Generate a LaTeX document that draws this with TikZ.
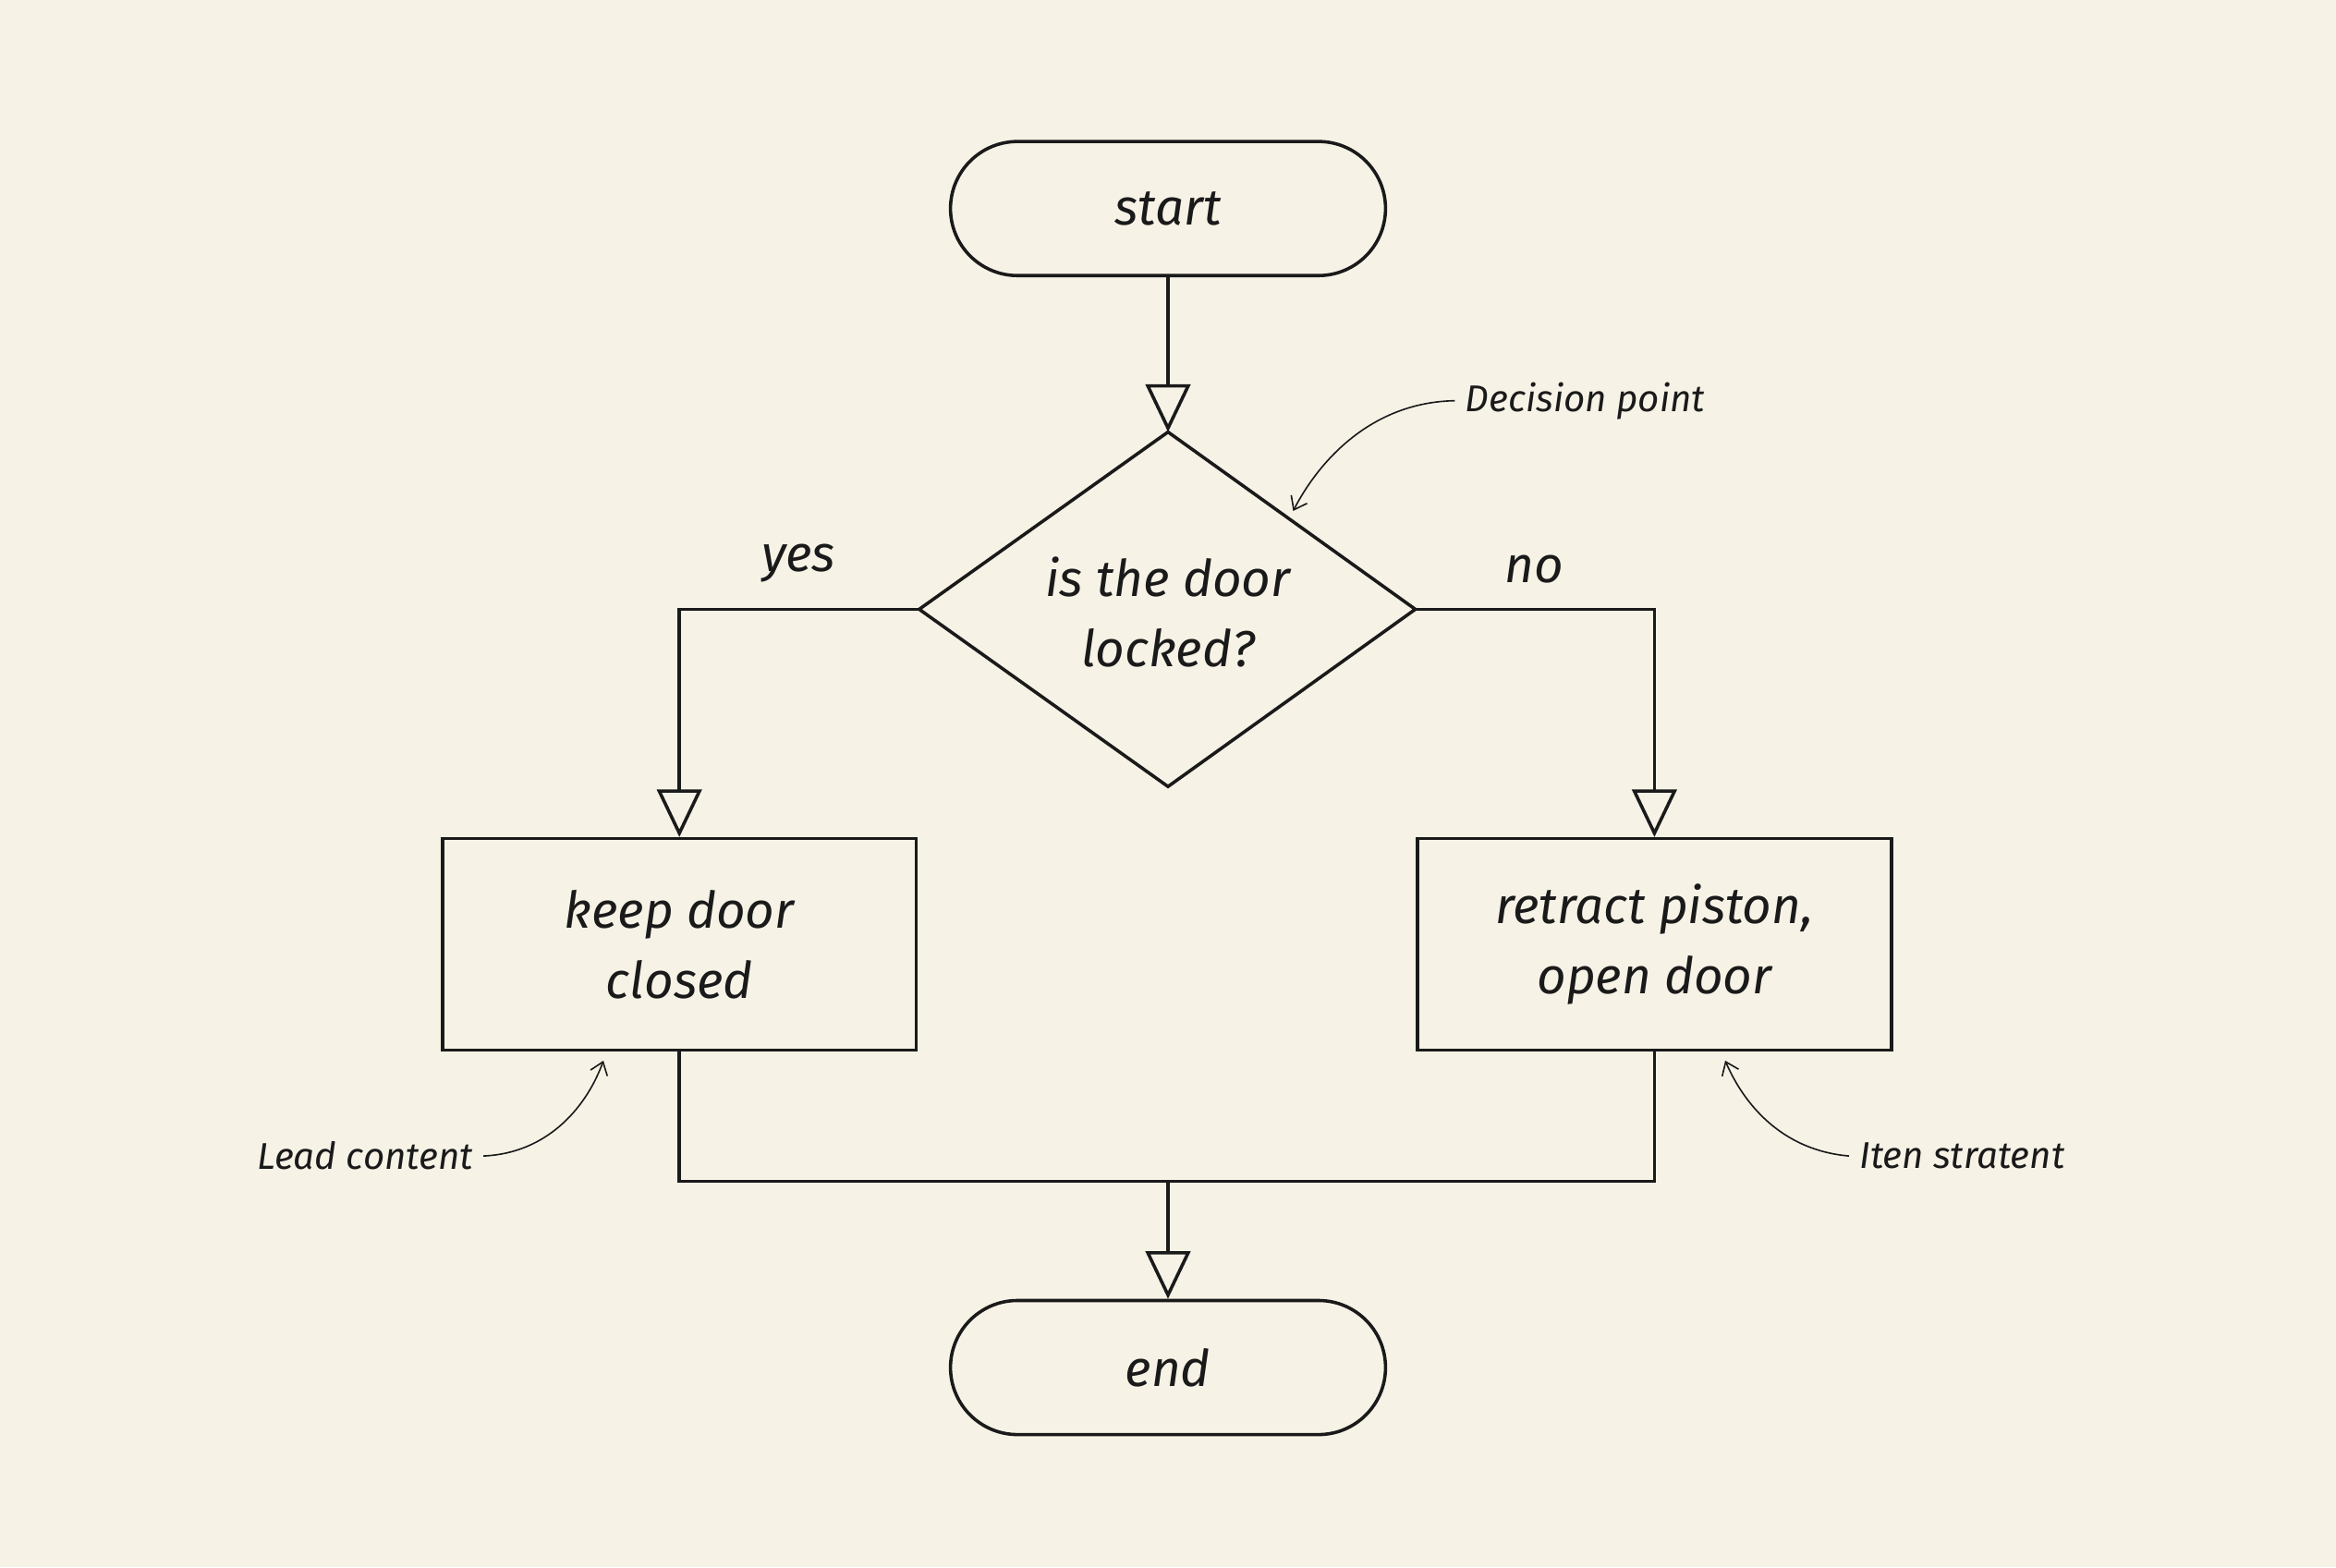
\documentclass[tikz,border=0pt]{standalone}
\usepackage{fontspec}
\setmainfont{Fira Sans}
\usetikzlibrary{arrows.meta,shapes.geometric}
\definecolor{paper}{HTML}{F6F2E6}
\definecolor{ink}{HTML}{1A1A1A}
\begin{document}
\begin{tikzpicture}[x=0.5pt,y=-0.5pt,
  every node/.style={font=\itshape\fontsize{17}{23.5}\selectfont,text=ink,align=center},
  ln/.style={draw=ink,line width=1.1pt},
  flow/.style={ln,-{Triangle[open,length=16pt,width=15pt,line width=1.1pt]}},
  term/.style={ln,rounded corners=22.5pt,minimum width=146pt,minimum height=45pt},
  box/.style={ln,minimum width=159pt,minimum height=71pt},
  note/.style={font=\itshape\fontsize{12.5}{14}\selectfont},
  ann/.style={draw=ink,line width=0.5pt,-{Straight Barb[length=4pt,width=6pt]}}]
\fill[paper] (0,0) rectangle (1568,1052);
\useasboundingbox (0,0) rectangle (1568,1052);
\node[term] (start) at (784,140) {start};
\node[term] (end) at (784,918) {end};
\coordinate (dt) at (784,290); \coordinate (dl) at (617,409);
\coordinate (dr) at (950,409); \coordinate (db) at (784,528);
\draw[ln] (dt) -- (dr) -- (db) -- (dl) -- cycle;
\node (dtext) at (784,411) {is the door\\locked?};
\node[box] (keep) at (456,634) {keep door\\closed};
\node[box] (retract) at (1110.5,634) {retract piston,\\open door};
\coordinate (join) at (784,793);
\draw[flow] (start) -- (dt);
\draw[flow] (dl) -| (keep.north);
\draw[flow] (dr) -| (retract.north);
\draw[ln] (keep.south) |- (join) -| (retract.south);
\draw[flow] (join) -- (end);
\node (yes) at (536,378) {yes};
\node (no) at (1030,382) {no};
\node[note] (dp) at (1064,269) {Decision point};
\node[note] (lc) at (245,776) {Lead content};
\node[note] (is) at (1317,776) {Iten stratent};
\coordinate (a1) at (868,343); \coordinate (a2) at (405,712); \coordinate (a3) at (1158,712);
\draw[ann] (dp.west) .. controls (920,270) and (885,310) .. (a1);
\draw[ann] (lc.east) .. controls (370,774) and (395,740) .. (a2);
\draw[ann] (is.west) .. controls (1195,772) and (1170,740) .. (a3);
\end{tikzpicture}
\end{document}
